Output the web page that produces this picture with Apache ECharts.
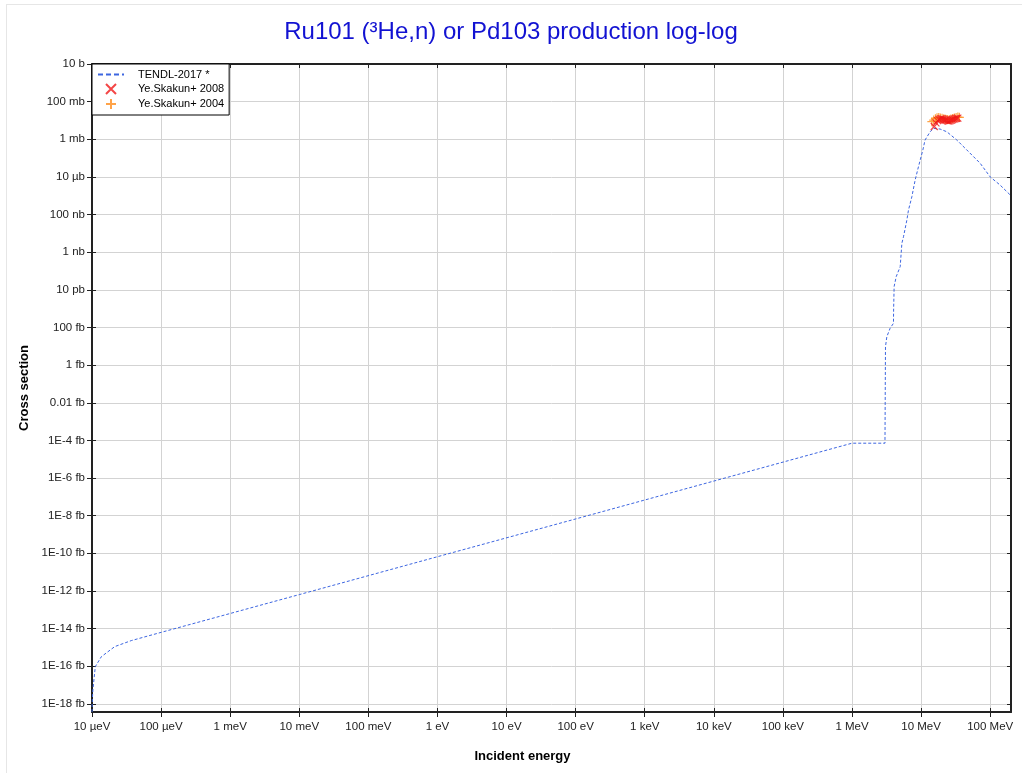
<!DOCTYPE html>
<html>
<head>
<meta charset="utf-8">
<script src="https://cdn.jsdelivr.net/npm/echarts@6/dist/echarts.min.js"></script>
<style>
html,body{margin:0;padding:0;background:#fff;width:1022px;height:773px;overflow:hidden}
#frame{position:absolute;left:6px;top:4px;width:1040px;height:800px;border:1px solid #e6e6e6;box-sizing:border-box}
#chart{position:absolute;left:0;top:0;width:1022px;height:773px}
</style>
</head>
<body>
<div id="frame"></div>
<div id="chart"></div>
<script>
// ---- data (energies in eV, cross sections in barns) ----
const xTickLabels = ['10 µeV','100 µeV','1 meV','10 meV','100 meV','1 eV','10 eV','100 eV','1 keV','10 keV','100 keV','1 MeV','10 MeV','100 MeV'];
const yTickLabels = ['1E-18 fb','1E-16 fb','1E-14 fb','1E-12 fb','1E-10 fb','1E-8 fb','1E-6 fb','1E-4 fb','0.01 fb','1 fb','100 fb','10 pb','1 nb','100 nb','10 µb','1 mb','100 mb','10 b'];

const tendlE = [1e-5, 1.01e-5, 1.03e-5, 1.116e-5, 1.364e-5, 2.13e-5, 3.7e-5, 1e-4, 1e-2, 1, 1e2, 1e4, 1e6,
  3.0e6, 3.05e6, 3.19e6, 3.56e6, 3.98e6, 4.0e6, 4.07e6, 4.36e6, 4.98e6, 5.27e6, 5.56e6, 6.22e6, 6.56e6,
  7.35e6, 8.2e6, 9.16e6, 1.06e7, 1.14e7, 1.35e7, 1.51e7, 1.88e7, 2.36e7, 3.29e7, 4.59e7, 7.16e7, 1.0e8, 1.39e8, 2.0e8];
const tendlS = [3.7e-34, 1.6e-33, 5.5e-33, 9.5e-32, 3.2e-31, 1.1e-30, 2.3e-30, 6.3e-30, 6.4e-28, 6.6e-26, 6.7e-24, 6.9e-22, 7.1e-20,
  7.1e-20, 9.5e-15, 3.2e-14, 9.1e-14, 1.66e-13, 8.5e-13, 1.5e-11, 5.0e-11, 1.7e-10, 3.0e-9, 6.6e-9, 5.1e-8, 1.7e-7,
  8.9e-7, 6.9e-6, 3.5e-5, 2.7e-4, 9.1e-4, 2.5e-3, 3.8e-3, 3.5e-3, 2.5e-3, 9.1e-4, 2.7e-4, 5.3e-5, 1.0e-5, 3.7e-6, 1.0e-6];

const skakun2008E = [15.5e6, 16.4e6, 17.3e6, 18.2e6, 19.1e6, 20.0e6, 21.0e6, 22.0e6, 23.0e6, 24.1e6, 25.2e6, 26.3e6, 27.5e6, 28.7e6, 30.0e6, 31.3e6, 32.7e6, 34.0e6];
const skakun2008S = [4.8e-3, 7.5e-3, 9.8e-3, 11.2e-3, 12.0e-3, 12.3e-3, 11.6e-3, 10.8e-3, 10.2e-3, 9.6e-3, 9.3e-3, 9.8e-3, 10.5e-3, 11.3e-3, 12.0e-3, 12.6e-3, 13.0e-3, 13.2e-3];
const skakun2004E = [14.3e6, 15.2e6, 16.1e6, 17.0e6, 18.0e6, 19.0e6, 20.1e6, 21.3e6, 22.6e6, 24.0e6, 25.5e6, 27.0e6, 28.6e6, 30.3e6, 32.1e6, 34.0e6, 35.8e6];
const skakun2004S = [8.6e-3, 10.5e-3, 12.5e-3, 13.8e-3, 14.2e-3, 13.6e-3, 13.0e-3, 12.3e-3, 11.5e-3, 11.2e-3, 11.0e-3, 11.8e-3, 12.6e-3, 13.4e-3, 14.5e-3, 15.3e-3, 14.6e-3];

const xMinE = 1e-5, xMaxE = 2e8;
const yMinS = 3.7e-34, yMaxS = 10;

// ---- log-log scale helpers (axis works in decades; y referenced to 10 b) ----
const lx = e => Math.log10(e);
const ly = s => Math.log10(s / 10);
const pairs = (E, S) => E.map((e, i) => [lx(e), ly(S[i])]);

const FONT = 'Liberation Sans, Arial, sans-serif';
const xLabel = v => { const i = Math.round(v + 5); return Math.abs(v + 5 - i) < 1e-6 ? (xTickLabels[i] || '') : ''; };
const yLabel = v => { const i = Math.round((v + 34) / 2); return Math.abs(v + 34 - 2 * i) < 1e-6 ? (yTickLabels[i] || '') : ''; };

const axisLineStyle = { color: '#222', width: 2 };
const xBase = { type: 'value', min: lx(xMinE), max: lx(xMaxE), interval: 1, gridIndex: 0 };
const yBase = { type: 'value', min: ly(yMinS), max: ly(yMaxS), minInterval: 2, maxInterval: 2, gridIndex: 0 };

const chart = echarts.init(document.getElementById('chart'), null, { renderer: 'canvas' });
chart.setOption({
  animation: false,
  backgroundColor: 'transparent',
  title: {
    text: 'Ru101 (³He,n) or Pd103 production log-log',
    left: 'center', top: 20, padding: [0, 0, 0, 14],
    textStyle: { fontFamily: FONT, fontSize: 24, fontWeight: 'normal', color: '#1212d2' }
  },
  grid: { left: 92, right: 11, top: 64, bottom: 61, containLabel: false },
  legend: {
    left: 92, top: 64, orient: 'vertical',
    padding: [5, 5, 5, 5], itemGap: 3, itemWidth: 26, itemHeight: 10,
    backgroundColor: '#fff', borderColor: '#000', borderWidth: 1, borderRadius: 0,
    textStyle: { fontFamily: FONT, fontSize: 11, color: '#000', padding: [0, 0, 0, 9] },
    data: [
      { name: 'TENDL-2017 *', lineStyle: { width: 2, type: [5, 3] }, itemStyle: { opacity: 0 } },
      { name: 'Ye.Skakun+ 2008' },
      { name: 'Ye.Skakun+ 2004' }
    ]
  },
  xAxis: [
    Object.assign({}, xBase, {
      position: 'bottom',
      name: 'Incident energy', nameLocation: 'middle', nameGap: 38,
      nameTextStyle: { fontFamily: FONT, fontSize: 13, fontWeight: 'bold', color: '#000', padding: [0, 58, 0, 0] },
      axisLine: { show: true, onZero: false, lineStyle: axisLineStyle },
      axisTick: { show: true, inside: false, length: 5, lineStyle: { color: '#222' } },
      axisLabel: { show: true, margin: 9, fontFamily: FONT, fontSize: 11.5, color: '#222', formatter: xLabel, showMaxLabel: false },
      splitLine: { show: true, lineStyle: { color: '#d3d3d3', width: 1 } }
    }),
    Object.assign({}, xBase, {
      position: 'top',
      axisLine: { show: true, onZero: false, lineStyle: axisLineStyle },
      axisTick: { show: true, inside: true, length: 4, lineStyle: { color: '#222' } },
      axisLabel: { show: false }, splitLine: { show: false }
    }),
    Object.assign({}, xBase, {
      position: 'bottom',
      axisLine: { show: false, onZero: false },
      axisTick: { show: true, inside: true, length: 4, lineStyle: { color: '#222' } },
      axisLabel: { show: false }, splitLine: { show: false }
    })
  ],
  yAxis: [
    Object.assign({}, yBase, {
      position: 'left',
      name: 'Cross section', nameLocation: 'middle', nameGap: 59,
      nameTextStyle: { fontFamily: FONT, fontSize: 13, fontWeight: 'bold', color: '#000' },
      axisLine: { show: true, onZero: false, lineStyle: axisLineStyle },
      axisTick: { show: true, inside: false, length: 5, lineStyle: { color: '#222' } },
      axisLabel: { show: true, margin: 7, fontFamily: FONT, fontSize: 11.5, color: '#222', formatter: yLabel, showMinLabel: false },
      splitLine: { show: true, lineStyle: { color: '#d3d3d3', width: 1 } }
    }),
    Object.assign({}, yBase, {
      position: 'right',
      axisLine: { show: true, onZero: false, lineStyle: axisLineStyle },
      axisTick: { show: true, inside: true, length: 4, lineStyle: { color: '#222' } },
      axisLabel: { show: false }, splitLine: { show: false }
    }),
    Object.assign({}, yBase, {
      position: 'left',
      axisLine: { show: false, onZero: false },
      axisTick: { show: true, inside: true, length: 4, lineStyle: { color: '#222' } },
      axisLabel: { show: false }, splitLine: { show: false }
    })
  ],
  series: [
    {
      name: 'TENDL-2017 *', type: 'line', xAxisIndex: 0, yAxisIndex: 0,
      data: pairs(tendlE, tendlS), symbol: 'none', showSymbol: false, smooth: false,
      lineStyle: { color: '#3d66e0', width: 1, type: [3, 2] },
      itemStyle: { color: '#3d66e0' }, z: 2
    },
    {
      name: 'Ye.Skakun+ 2004', type: 'scatter', xAxisIndex: 0, yAxisIndex: 0,
      data: pairs(skakun2004E, skakun2004S),
      symbol: 'path://M5,0L5,10M0,5L10,5', symbolSize: 9,
      itemStyle: { color: 'rgba(0,0,0,0)', borderColor: '#ff8c1a', borderWidth: 1.2 }, z: 3
    },
    {
      name: 'Ye.Skakun+ 2008', type: 'scatter', xAxisIndex: 0, yAxisIndex: 0,
      data: pairs(skakun2008E, skakun2008S),
      symbol: 'path://M0,0L10,10M10,0L0,10', symbolSize: 7,
      itemStyle: { color: 'rgba(0,0,0,0)', borderColor: '#f01818', borderWidth: 1.2 }, z: 4
    }
  ]
});
</script>
</body>
</html>
